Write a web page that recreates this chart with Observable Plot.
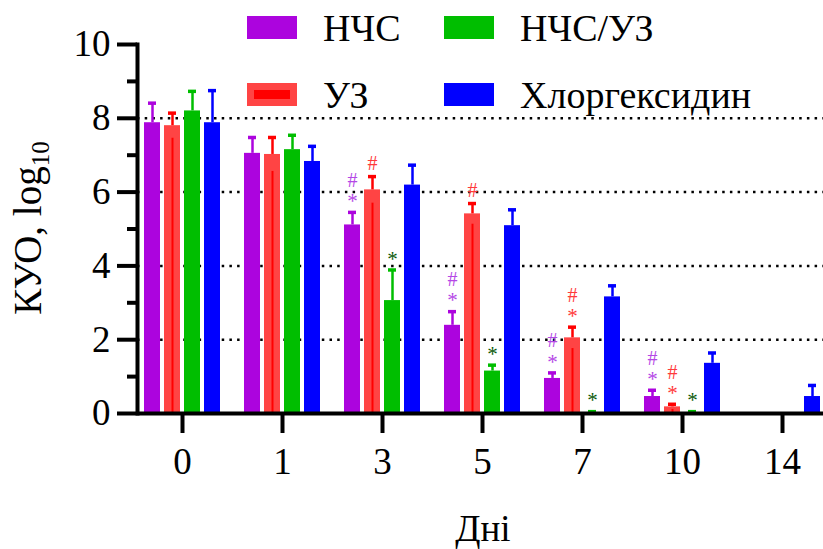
<!DOCTYPE html>
<html>
<head>
<meta charset="utf-8">
<script src="https://cdn.jsdelivr.net/npm/d3@7"></script>
<script src="https://cdn.jsdelivr.net/npm/@observablehq/plot@0.6"></script>
<style>
  html, body { margin: 0; padding: 0; background: #fff; }
  body, body * { font-family: 'Liberation Serif', serif !important; }
  #wrap { position: relative; width: 823px; height: 549px; }
  .lg-item { position: absolute; display: flex; align-items: center; height: 40px; }
  .lg-sw { width: 50px; height: 23px; box-sizing: border-box; }
  .lg-tx { margin-left: 26px; font-size: 38px; line-height: 1; color: #000; white-space: nowrap; }
</style>
</head>
<body>
<div id="wrap"></div>
<script>
// ---------- data ----------
const days = ["0", "1", "3", "5", "7", "10", "14"];
const seriesNames = ["НЧС", "УЗ", "НЧС/УЗ", "Хлоргексидин"];
const seriesColors = ["#AC04DE", "#FF4444", "#00BE00", "#0000FF"];
const errorColors = ["#AC04DE", "#FF0000", "#00BE00", "#0000FF"];
const markColors = ["#B448E6", "#FF3A3A", "#0A5A0A", "#0000FF"];

// means (log10 CFU) per day
const meanNCS    = [7.88, 7.05, 5.11, 2.39, 0.95, 0.46, null];
const meanUZ     = [7.80, 7.02, 6.06, 5.41, 2.05, 0.18, null];
const meanNCSUZ  = [8.20, 7.15, 3.06, 1.15, 0.01, 0.01, null];
const meanChlor  = [7.88, 6.83, 6.19, 5.09, 3.16, 1.36, 0.46];
// SD (upper error)
const sdNCS      = [0.53, 0.43, 0.34, 0.37, 0.15, 0.17, null];
const sdUZ       = [0.34, 0.46, 0.36, 0.28, 0.29, 0.07, null];
const sdNCSUZ    = [0.53, 0.39, 0.83, 0.16, 0.04, 0.04, null];
const sdChlor    = [0.87, 0.41, 0.54, 0.43, 0.30, 0.28, 0.30];
// significance marks
const starNCS    = [0, 0, 1, 1, 1, 1, 0];
const starUZ     = [0, 0, 0, 0, 1, 1, 0];
const starNCSUZ  = [0, 0, 1, 1, 1, 1, 0];
const starChlor  = [0, 0, 0, 0, 0, 0, 0];
const hashNCS    = [0, 0, 1, 1, 1, 1, 0];
const hashUZ     = [0, 0, 1, 1, 1, 1, 0];
const hashNCSUZ  = [0, 0, 0, 0, 0, 0, 0];
const hashChlor  = [0, 0, 0, 0, 0, 0, 0];

const yTicksMajor = [0, 2, 4, 6, 8, 10];
const yTicksMinor = [1, 3, 5, 7, 9];
const gridValues = [2, 4, 6, 8];

// ---------- build table ----------
const FONT = "Liberation Serif";
const means = [meanNCS, meanUZ, meanNCSUZ, meanChlor];
const sds = [sdNCS, sdUZ, sdNCSUZ, sdChlor];
const stars = [starNCS, starUZ, starNCSUZ, starChlor];
const hashes = [hashNCS, hashUZ, hashNCSUZ, hashChlor];
const nS = seriesNames.length;
const groupWidth = 0.8;
const slot = groupWidth / nS;
const barW = slot * 0.8;
const capW = slot * 0.4;

const rows = [];
seriesNames.forEach((name, s) => {
  days.forEach((day, i) => {
    const m = means[s][i];
    if (m == null) return;
    rows.push({
      s, name, i, day,
      pos: i + (s - (nS - 1) / 2) * slot,
      mean: m,
      sd: sds[s][i],
      star: stars[s][i],
      hash: hashes[s][i]
    });
  });
});

const starRows = rows.filter(d => d.star);
const hashStacked = rows.filter(d => d.hash && d.star);
const hashAlone = rows.filter(d => d.hash && !d.star);

const chart = Plot.plot({
  width: 823,
  height: 549,
  marginLeft: 137,
  marginRight: 0,
  marginTop: 44,
  marginBottom: 136,
  style: { fontSize: "37px", color: "#000", background: "#fff" },
  x: { type: "linear", domain: [-0.45, 6.41], axis: null },
  y: { domain: [0, 10], axis: null },
  color: { type: "identity" },
  marks: [
    Plot.ruleY(gridValues, { stroke: "#000", strokeWidth: 2.5, strokeDasharray: "2.5,5.2" }),
    Plot.rectY(rows, {
      x1: d => d.pos - barW / 2, x2: d => d.pos + barW / 2,
      y1: 0, y2: "mean",
      fill: d => seriesColors[d.s]
    }),
    Plot.ruleX(rows.filter(d => d.s === 1), {
      x: "pos", y1: 0, y2: d => d.mean - d.sd,
      stroke: d => errorColors[d.s], strokeWidth: 2
    }),
    Plot.ruleX(rows, {
      x: "pos", y1: "mean", y2: d => d.mean + d.sd,
      stroke: d => errorColors[d.s], strokeWidth: 2.5
    }),
    Plot.ruleY(rows, {
      y: d => d.mean + d.sd,
      x1: d => d.pos - capW / 2, x2: d => d.pos + capW / 2,
      stroke: d => errorColors[d.s], strokeWidth: 3.5
    }),
    Plot.text(starRows, {
      x: "pos", y: d => d.mean + d.sd, text: () => "*",
      dy: -11, fontSize: 21,
      fill: d => markColors[d.s]
    }),
    Plot.text(hashStacked, {
      x: "pos", y: d => d.mean + d.sd, text: () => "#",
      dy: -32, fontSize: 20,
      fill: d => markColors[d.s]
    }),
    Plot.text(hashAlone, {
      x: "pos", y: d => d.mean + d.sd, text: () => "#",
      dy: -13, fontSize: 20,
      fill: d => markColors[d.s]
    }),
    Plot.frame({ anchor: "left", strokeWidth: 4, stroke: "#000" }),
    Plot.ruleY([0], { strokeWidth: 4, stroke: "#000" }),
    Plot.axisY({ ticks: yTicksMajor, tickSize: 20, tickPadding: 7, strokeWidth: 4, fontSize: 37, label: null }),
    Plot.axisY({ ticks: yTicksMinor, tickSize: 10, strokeWidth: 4, tickFormat: () => "", label: null }),
    Plot.axisX({ ticks: d3.range(days.length), tickFormat: i => days[i], tickSize: 20, tickPadding: 14, strokeWidth: 4, fontSize: 37, label: null })
  ]
});

const wrap = document.getElementById("wrap");
wrap.appendChild(chart);
d3.select(chart).attr("font-family", FONT);
d3.select(chart).selectAll("text, g").attr("font-family", FONT);

// axis titles
const svg = d3.select(chart);
const yl = svg.append("text")
  .attr("transform", "translate(41,228) rotate(-90)")
  .attr("text-anchor", "middle")
  .attr("font-family", FONT)
  .attr("font-size", 39)
  .attr("fill", "#000");
yl.append("tspan").text("КУО, log");
yl.append("tspan").attr("font-size", 25).attr("dy", 8).text("10");

svg.append("text")
  .attr("x", 483).attr("y", 541)
  .attr("text-anchor", "middle")
  .attr("font-family", FONT)
  .attr("font-size", 37)
  .attr("fill", "#000")
  .text("Дні");

// legend (column-major: 2 rows × 2 columns)
const legendCols = [247, 444];
const legendRows = [27.5, 94.5];
seriesNames.forEach((name, s) => {
  const col = Math.floor(s / 2), row = s % 2;
  const item = document.createElement("div");
  item.className = "lg-item";
  item.style.left = legendCols[col] + "px";
  item.style.top = (legendRows[row] - 20) + "px";
  const sw = document.createElement("div");
  sw.className = "lg-sw";
  if (errorColors[s] !== seriesColors[s]) {
    sw.style.background = errorColors[s];
    sw.style.border = "7px solid " + seriesColors[s];
  } else {
    sw.style.background = seriesColors[s];
  }
  const tx = document.createElement("span");
  tx.className = "lg-tx";
  tx.textContent = name;
  item.appendChild(sw);
  item.appendChild(tx);
  wrap.appendChild(item);
});
</script>
</body>
</html>
